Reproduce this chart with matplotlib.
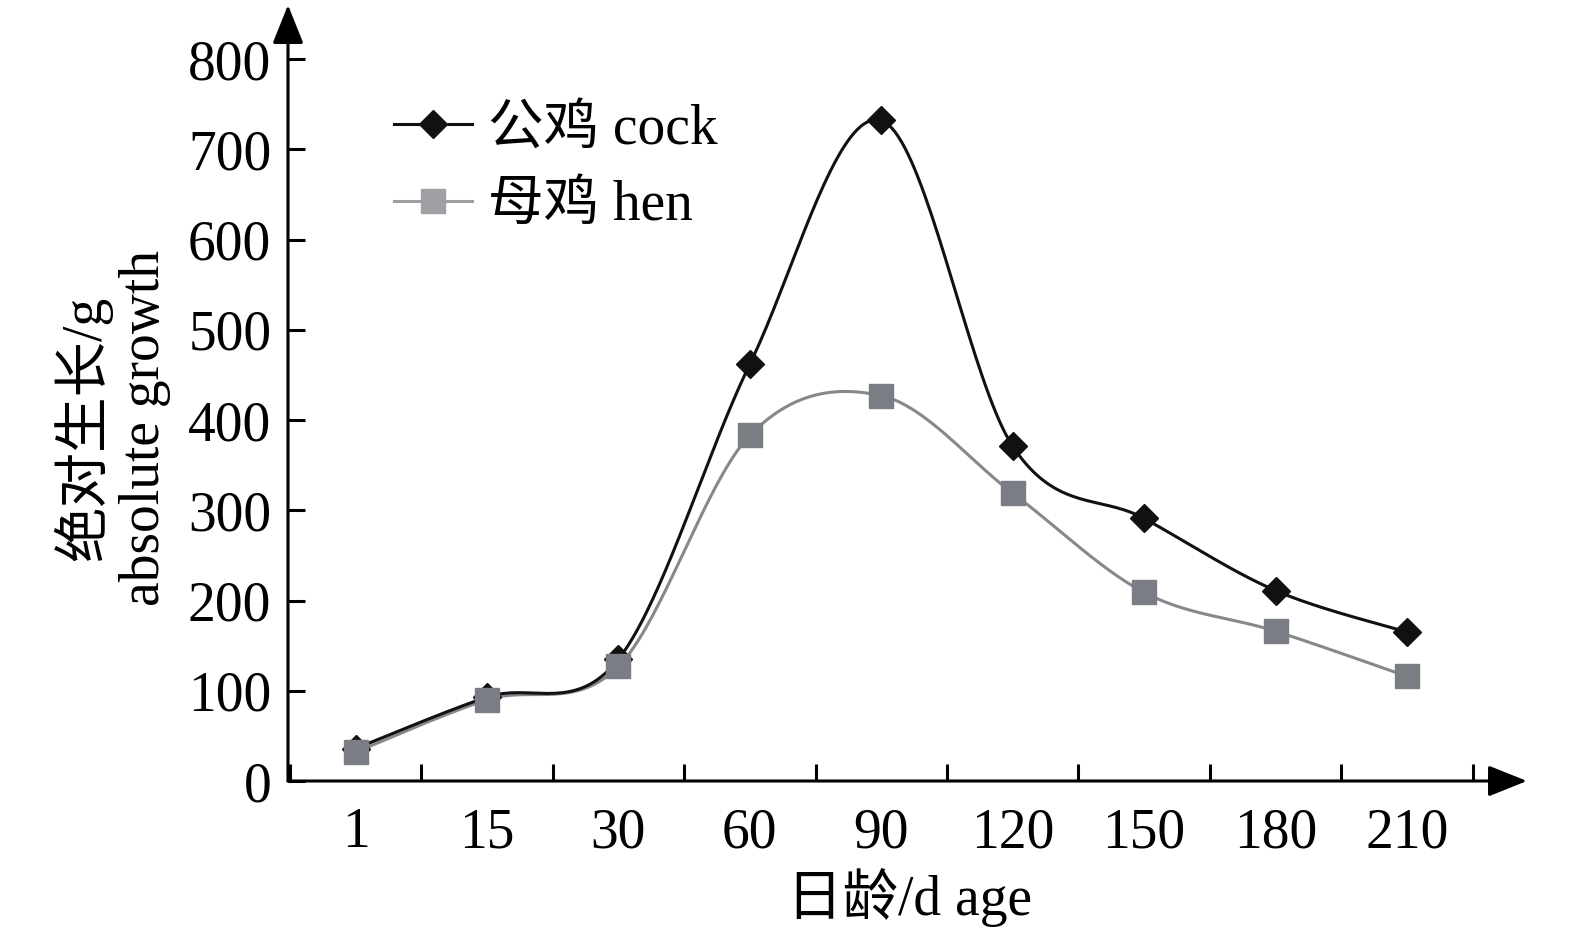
import matplotlib
matplotlib.use('Agg')
import matplotlib.pyplot as plt
import numpy as np

plt.rcParams['font.family'] = ['Liberation Serif', 'Noto Sans CJK SC']

days = ['1', '15', '30', '60', '90', '120', '150', '180', '210']
cock = [36, 93, 135, 462, 732, 371, 291, 211, 165]
hen = [32, 90, 127, 383, 427, 319, 209, 166, 116]
yticks = [0, 100, 200, 300, 400, 500, 600, 700, 800]


def smooth(x, y, n=40):
    # excel-like smoothed line (bezier through the points)
    x = np.asarray(x, float)
    y = np.asarray(y, float)
    px = np.concatenate([[x[0]], x, [x[-1]]])
    py = np.concatenate([[y[0]], y, [y[-1]]])
    xs, ys = [], []
    t = np.linspace(0, 1, n)
    for i in range(len(x) - 1):
        p0 = np.array([px[i + 1], py[i + 1]])
        p3 = np.array([px[i + 2], py[i + 2]])
        p1 = p0 + (np.array([px[i + 2], py[i + 2]]) - np.array([px[i], py[i]])) / 6
        p2 = p3 - (np.array([px[i + 3], py[i + 3]]) - np.array([px[i + 1], py[i + 1]])) / 6
        b = ((1 - t) ** 3)[:, None] * p0 + (3 * (1 - t) ** 2 * t)[:, None] * p1 \
            + (3 * (1 - t) * t ** 2)[:, None] * p2 + (t ** 3)[:, None] * p3
        xs.extend(b[:, 0])
        ys.extend(b[:, 1])
    return np.array(xs), np.array(ys)


fs = 40
fig = plt.figure(figsize=(15.75, 9.38), dpi=100)
ax = fig.add_axes([288 / 1575, 157 / 938, 1239 / 1575, 776 / 938])

pos = np.arange(len(days))
hen_c = '#7a7d84'
sx, sy = smooth(pos, hen)
ax.plot(sx, sy, color='#86888c', lw=2.2, zorder=2)
sx, sy = smooth(pos, cock)
ax.plot(sx, sy, color='#111111', lw=2.2, zorder=3)
ax.plot(pos, cock, ls='none', marker='D', ms=14, color='#111111', zorder=4)
ax.plot(pos, hen, ls='none', marker='s', ms=17, color=hen_c, zorder=5)

# legend handles
ax.plot([], [], color='#111111', lw=2.2, marker='D', ms=14, label='公鸡 cock')
ax.plot([], [], color='#a0a0a4', lw=2.2, marker='s', ms=17, label='母鸡 hen')
h, l = ax.get_legend_handles_labels()
ax.legend(h, l, loc='upper left', bbox_to_anchor=(366 / 1575, 1 - 76 / 938),
          bbox_transform=fig.transFigure, frameon=False, fontsize=fs,
          handlelength=1.4, handletextpad=0.3, labelspacing=0.44, borderpad=0)

ax.set_xlim(-0.514, 8.913)
ax.set_ylim(0, 860)
ax.set_xticks(np.arange(-0.5, 9, 1))
ax.set_xticklabels([])
ax.set_xticks(pos, minor=True)
ax.set_xticklabels(days, minor=True, fontsize=fs)
ax.tick_params(axis='x', which='major', direction='in', length=12, width=2.2)
ax.tick_params(axis='x', which='minor', length=0, pad=19)
ax.set_yticks(yticks)
ax.set_yticklabels([str(v) for v in yticks], fontsize=fs)
ax.tick_params(axis='y', direction='in', length=12, width=2.2, pad=12)

for s in ['top', 'right', 'left', 'bottom']:
    ax.spines[s].set_visible(False)
ap = dict(arrowstyle='-|>,head_length=1.0,head_width=0.4', lw=2.2, color='k',
          mutation_scale=24, shrinkA=0, shrinkB=0)
ax.annotate('', xy=(0, 1), xytext=(0, 0), xycoords='axes fraction', arrowprops=ap)
ax.annotate('', xy=(1, 0), xytext=(0, 0), xycoords='axes fraction', arrowprops=ap)

fig.text(910 / 1575, 1 - 897 / 938, '日龄/d age', fontsize=fs, ha='center', va='center')
fig.text(112 / 1575, 1 - 428 / 938, '绝对生长/g\nabsolute growth', fontsize=fs,
         ha='center', va='center', rotation=90, linespacing=1.15)

plt.savefig('out.png', dpi=100)
